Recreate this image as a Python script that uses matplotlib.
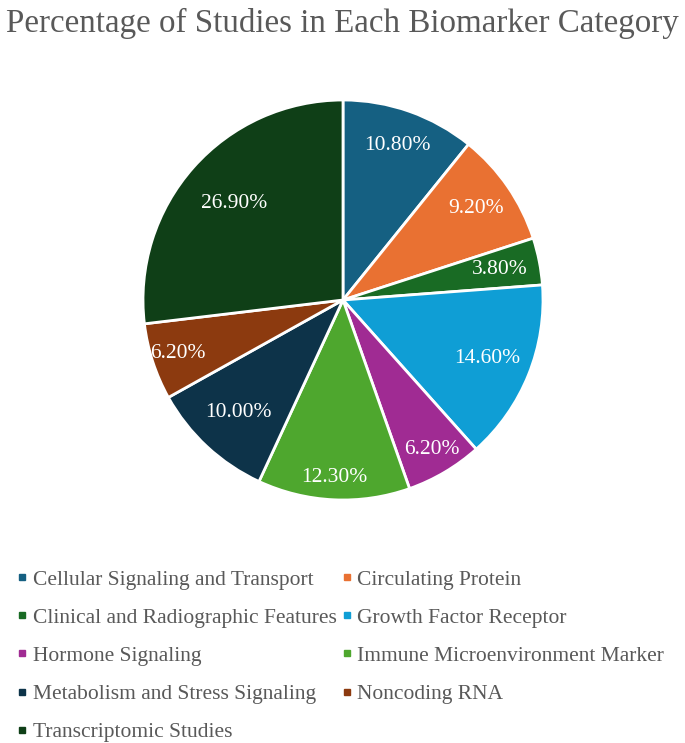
import matplotlib

matplotlib.use("Agg")

import numpy as np
import matplotlib.pyplot as plt
from matplotlib.lines import Line2D

categories = [
    "Cellular Signaling and Transport",
    "Circulating Protein",
    "Clinical and Radiographic Features",
    "Growth Factor Receptor",
    "Hormone Signaling",
    "Immune Microenvironment Marker",
    "Metabolism and Stress Signaling",
    "Noncoding RNA",
    "Transcriptomic Studies",
]
percentages = [10.8, 9.2, 3.8, 14.6, 6.2, 12.3, 10.0, 6.2, 26.9]
colors = [
    "#156082", "#E97132", "#196B24", "#0F9ED5", "#A02B93",
    "#4EA72E", "#0D3349", "#8C3A0F", "#0F3F17",
]
# radial position of each percentage label (fraction of radius)
label_dist = [0.82, 0.81, 0.80, 0.78, 0.87, 0.89, 0.77, 0.87, 0.73]

plt.rcParams["font.family"] = ["Liberation Serif", "DejaVu Serif"]
text_grey = "#595959"

fig = plt.figure(figsize=(6.85, 7.43), dpi=100)
fig.text(0.5, 0.968, "Percentage of Studies in Each Biomarker Category",
         ha="center", va="center", fontsize=23.8, color=text_grey)

ax = fig.add_axes([143 / 685, 1 - 500 / 743, 400 / 685, 400 / 743])
wedges, _ = ax.pie(
    percentages, colors=colors, startangle=90, counterclock=False,
    wedgeprops={"edgecolor": "white", "linewidth": 2},
)
ax.set_xlim(-1, 1)
ax.set_ylim(-1, 1)
ax.set_aspect("equal")

for w, pct, d in zip(wedges, percentages, label_dist):
    mid = np.deg2rad((w.theta1 + w.theta2) / 2)
    ax.text(d * np.cos(mid), d * np.sin(mid), f"{pct:.2f}%",
            ha="center", va="center", color="white", fontsize=15.5)

# legend filled row by row, two columns
handles = [Line2D([], [], marker="s", linestyle="none", markersize=5,
                  color=c) for c in colors]
order = [0, 2, 4, 6, 8, 1, 3, 5, 7]
leg = fig.legend(
    [handles[i] for i in order], [categories[i] for i in order],
    ncol=2, loc="upper left", bbox_to_anchor=(0.012, 0.245),
    frameon=False, fontsize=15.5, handlelength=0.5, handletextpad=0.25,
    labelspacing=0.84, columnspacing=0.2, borderaxespad=0,
)
for t in leg.get_texts():
    t.set_color(text_grey)

fig.savefig("out.png", dpi=100)
